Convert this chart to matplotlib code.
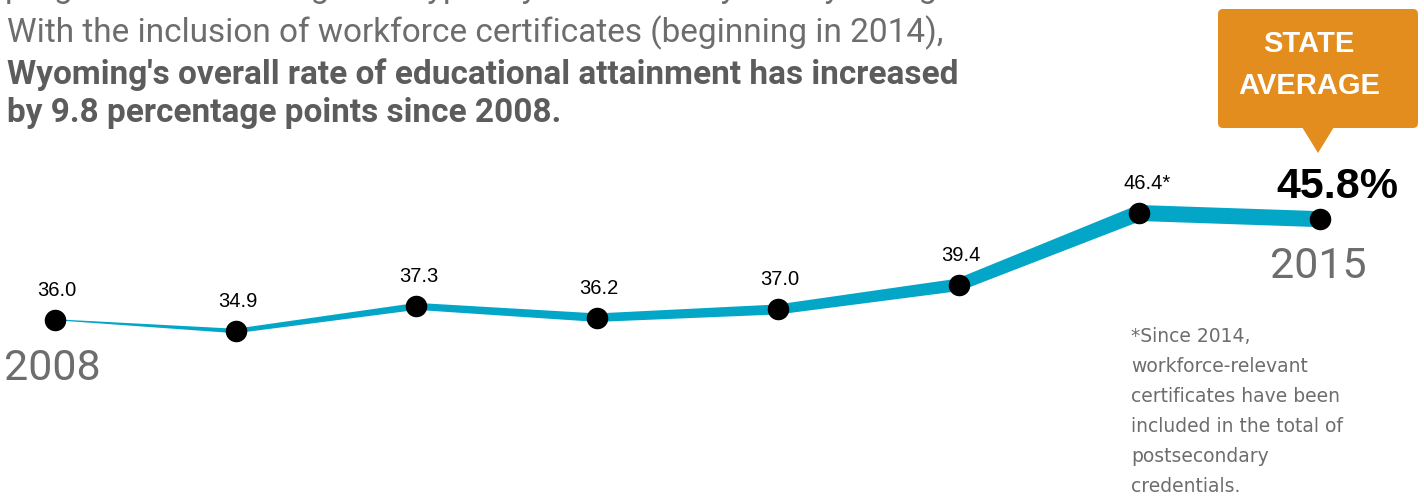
import matplotlib
matplotlib.use("Agg")
import matplotlib.pyplot as plt
from matplotlib.patches import Polygon, FancyBboxPatch
from matplotlib.transforms import IdentityTransform
import numpy as np

years = [2008, 2009, 2010, 2011, 2012, 2013, 2014, 2015]
rates = [36.0, 34.9, 37.3, 36.2, 37.0, 39.4, 46.4, 45.8]
value_labels = ["36.0", "34.9", "37.3", "36.2", "37.0", "39.4", "46.4*", "45.8%"]

headline_lines = [
    "progress toward the goal is typically measured by each year's gains.",
    "With the inclusion of workforce certificates (beginning in 2014),",
]
headline_bold = [
    "Wyoming's overall rate of educational attainment has increased",
    "by 9.8 percentage points since 2008.",
]
callout_text = "STATE\nAVERAGE"
footnote = ("*Since 2014,\nworkforce-relevant\ncertificates have been\n"
            "included in the total of\npostsecondary\ncredentials.")

W, H = 1424, 496
fig = plt.figure(figsize=(W / 100, H / 100), dpi=100)
ax = fig.add_axes([0, 0, 1, 1])
ax.set_axis_off()

# map data to pixel layout
px_per_year = 180.7
px_per_unit = 10.26
ax.set_xlim(2008 - 55 / px_per_year, 2008 + (W - 55) / px_per_year)
ax.set_ylim(34.9 - (H - 331) / px_per_unit, 34.9 + 331 / px_per_unit)

def fx(px):
    return px / W

def fy(py):
    return 1 - py / H

LINE_COLOR = "#04a6c8"
GRAY = "#6d6d6d"
head_font = ["Roboto", "DejaVu Sans"]
body_font = ["Liberation Sans", "DejaVu Sans"]

# tapered line drawn in display space
widths = [1.0, 4.5, 7.0, 8.5, 10.0, 12.5, 16.0, 16.0]
pts = ax.transData.transform(np.column_stack([years, rates]))
for i in range(len(pts) - 1):
    p0, p1 = pts[i], pts[i + 1]
    d = p1 - p0
    n = np.array([-d[1], d[0]]) / np.hypot(*d)
    w0, w1 = widths[i] / 2, widths[i + 1] / 2
    poly = [p0 + n * w0, p1 + n * w1, p1 - n * w1, p0 - n * w0]
    ax.add_patch(Polygon(poly, closed=True, facecolor=LINE_COLOR,
                         edgecolor="none", transform=IdentityTransform(), zorder=2))

ax.plot(years, rates, linestyle="none", marker="o", markersize=14.5,
        color="black", zorder=3)

# value labels
for i, (yr, v, lab) in enumerate(zip(years, rates, value_labels)):
    if i == len(years) - 1:
        continue
    if lab.endswith("*"):
        ax.annotate(lab, (yr, v), xytext=(-16, 24), textcoords="offset pixels",
                    ha="left", va="baseline", fontsize=14.5, family=body_font,
                    color="black")
    else:
        ax.annotate(lab, (yr, v), xytext=(2, 24), textcoords="offset pixels",
                    ha="center", va="baseline", fontsize=14.5, family=body_font,
                    color="black")

# last value big
ax.annotate(value_labels[-1], (years[-1], rates[-1]), xytext=(17, 21),
            textcoords="offset pixels", ha="center", va="baseline",
            fontsize=31, fontweight="bold", family=body_font, color="black")

# year labels
fig.text(fx(4), fy(380), str(years[0]), fontsize=31, color=GRAY,
         family=["Roboto", "DejaVu Sans"], ha="left", va="baseline")
fig.text(fx(1318), fy(278), str(years[-1]), fontsize=31, color=GRAY,
         family=["Roboto", "DejaVu Sans"], ha="center", va="baseline")

# headline
fig.text(fx(5), fy(-3), headline_lines[0], fontsize=24, color=GRAY,
         family=head_font, ha="left", va="baseline")
fig.text(fx(7), fy(42), headline_lines[1], fontsize=24, color=GRAY,
         family=head_font, ha="left", va="baseline")
fig.text(fx(7), fy(84), headline_bold[0], fontsize=24, color="#5c5c5c",
         fontweight="bold", family=head_font, ha="left", va="baseline")
fig.text(fx(7), fy(122), headline_bold[1], fontsize=24, color="#5c5c5c",
         fontweight="bold", family=head_font, ha="left", va="baseline")

# callout
ORANGE = "#e38d1e"
box = FancyBboxPatch((1218, H - 128), 200, 119,
                     boxstyle="round,pad=0,rounding_size=5",
                     facecolor=ORANGE, edgecolor="none",
                     transform=IdentityTransform(), zorder=4)
fig.patches.append(box)
tri = Polygon([[1302, H - 127], [1334, H - 127], [1318, H - 153]], closed=True,
              facecolor=ORANGE, edgecolor="none", transform=IdentityTransform(),
              zorder=4)
fig.patches.append(tri)
fig.text(fx(1309), fy(65), callout_text, fontsize=21, color="white",
         fontweight="bold", family=body_font, ha="center", va="center",
         linespacing=1.62, zorder=5)

# footnote
fig.text(fx(1131), fy(327), footnote, fontsize=13.5, color=GRAY,
         family=["DejaVu Sans"], ha="left", va="top",
         linespacing=1.74)

fig.savefig("out.png", dpi=100)
